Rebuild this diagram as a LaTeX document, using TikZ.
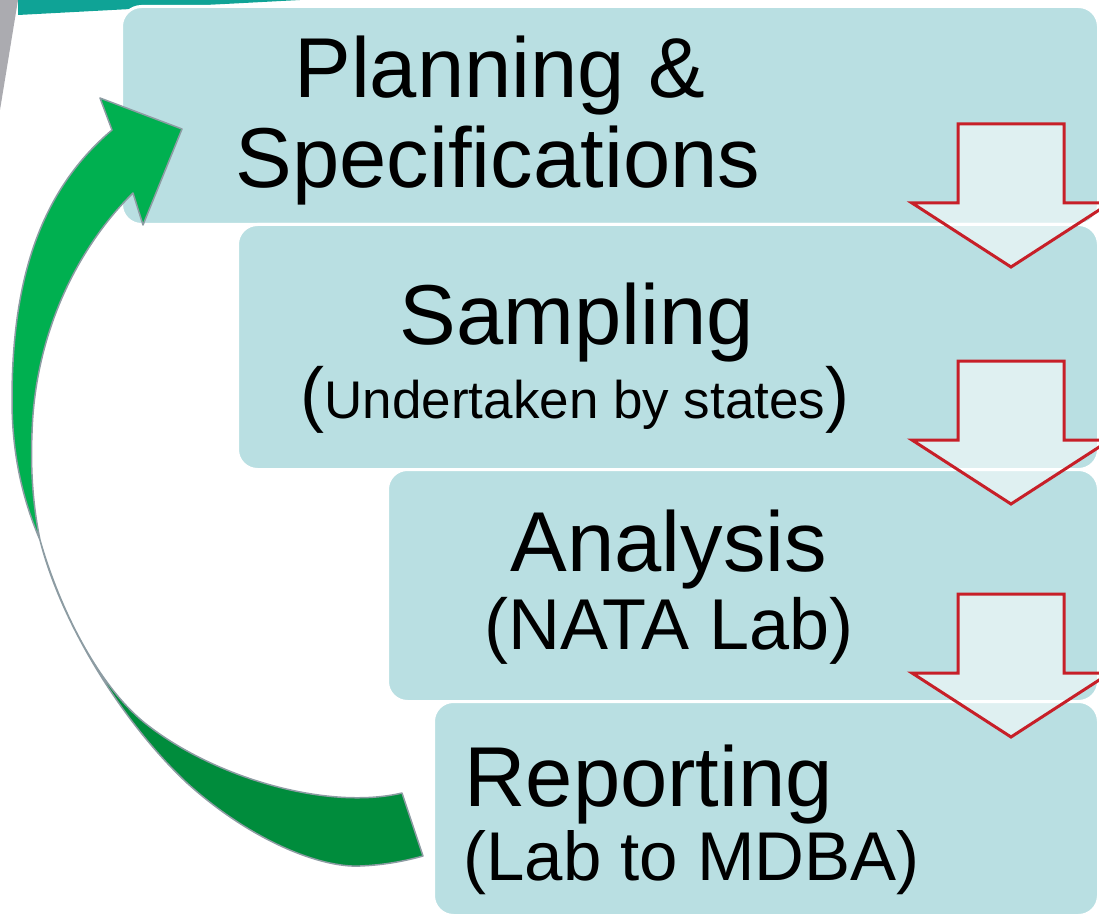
\documentclass[tikz,border=0pt]{standalone}
\usepackage{fontspec}
\setmainfont{Liberation Sans}
\usepackage{tikz}

\definecolor{boxfill}{HTML}{B9DFE2}
\definecolor{arrowred}{HTML}{C71F28}
\definecolor{greenfront}{HTML}{00B050}
\definecolor{greenback}{HTML}{008C3C}
\definecolor{rimgray}{HTML}{8D9CA3}
\definecolor{bandteal}{HTML}{0FA396}
\definecolor{bandgray}{HTML}{ABABB0}

\tikzset{
  stepbox/.style={rectangle, rounded corners=10pt, fill=boxfill, draw=white, line width=1.5pt, anchor=north west, inner sep=0pt},
  downarrow/.style={draw=arrowred, line width=1.5pt, fill=white, fill opacity=0.55, line join=miter},
  greenrim/.style={draw=rimgray, line width=0.75pt, line join=round},
  heading/.style={inner sep=0pt, font=\fontsize{42.5}{44}\selectfont},
  subheading/.style={inner sep=0pt, font=\fontsize{36}{38}\selectfont},
}

\begin{document}
\begin{tikzpicture}[x=0.5pt, y=-0.5pt]
    \useasboundingbox (0,0) rectangle (1099,915);

    % corner decoration
    \fill[bandgray] (0,0) -- (18,0) -- (0,110) -- cycle;
    \fill[bandteal] (18,0) -- (18,15) -- (300,0) -- cycle;

    % the four steps
    \node[stepbox, minimum width=488.5pt, minimum height=109pt] (plan) at (120,5) {};
    \node[stepbox, minimum width=430.5pt, minimum height=122.5pt] (samp) at (236,223) {};
    \node[stepbox, minimum width=355.5pt, minimum height=116pt] (ana) at (386,468) {};
    \node[stepbox, minimum width=332.5pt, minimum height=107pt] (rep) at (432,700) {};

    % block arrows between the steps
    \foreach \t in {124,361,594}
        \draw[downarrow] (958,\t) -- (1064,\t) -- (1064,{\t+79}) -- (1110,{\t+79})
            -- (1011,{\t+143}) -- (912,{\t+79}) -- (958,{\t+79}) -- cycle;

    % curved return arrow, back face
    \coordinate (twist) at (40,540);
    \filldraw[greenrim, fill=greenback] (twist)
        .. controls (60,620) and (120,720) .. (187,783)
        .. controls (250,840) and (320,868) .. (360,866)
        .. controls (385,865) and (405,861) .. (423,856)
        -- (402,793)
        .. controls (330,810) and (220,780) .. (150,727)
        .. controls (100,690) and (60,610) .. (twist) -- cycle;
    % front face with the head
    \filldraw[greenrim, fill=greenfront] (twist)
        .. controls (25,505) and (12,460) .. (12,400)
        .. controls (12,290) and (35,195) .. (112,130)
        -- (100,98) -- (182,129) -- (143,225) -- (133,193)
        .. controls (80,245) and (35,330) .. (32,433)
        .. controls (30,480) and (35,515) .. (twist) -- cycle;

    % labels
    \node[heading, anchor=base] (plan-a) at (500,98) {Planning \&};
    \node[heading, anchor=base] (plan-b) at (498,188) {Specifications};
    \node[heading, anchor=base] (samp-a) at (577,344) {Sampling};
    \node[subheading, anchor=base] (samp-b) at (575,418) {({\fontsize{26.5}{28}\selectfont Undertaken by states})};
    \node[heading, anchor=base] (ana-a) at (669,571) {Analysis};
    \node[subheading, anchor=base] (ana-b) at (669,649) {(NATA Lab)};
    \node[heading, anchor=base west] (rep-a) at (464,806) {Reporting};
    \node[subheading, anchor=base west, font=\fontsize{34.5}{36}\selectfont] (rep-b) at (463,880) {(Lab to MDBA)};
\end{tikzpicture}
\end{document}
